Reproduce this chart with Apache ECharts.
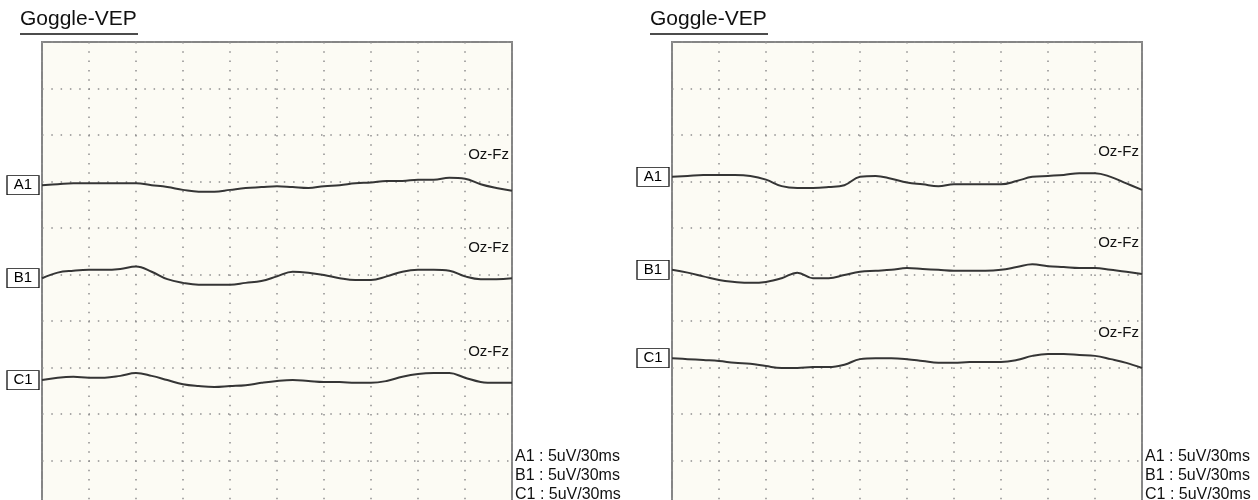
<!DOCTYPE html>
<html>
<head>
<meta charset="utf-8">
<script src="https://cdn.jsdelivr.net/npm/echarts@6/dist/echarts.min.js"></script>
<style>
  html, body { margin: 0; padding: 0; background: #fff; overflow: hidden; }
  /* the recording frames run a few pixels past the bottom of the picture */
  #chart { width: 1258px; height: 507px; }
</style>
</head>
<body>
<div id="chart"></div>
<script>
// time axis in ms (30 ms per division), amplitude in uV (5 uV per division)
var times = [0, 10, 20, 30, 40, 50, 60, 70, 80, 90, 100, 110, 120, 130, 140, 150,
  160, 170, 180, 190, 200, 210, 220, 230, 240, 250, 260, 270, 280, 290, 300]
var channels = ['A1', 'B1', 'C1']
var scaleText = ['A1 : 5uV/30ms', 'B1 : 5uV/30ms', 'C1 : 5uV/30ms']

// left recording
var leftA1 = [34.6, 34.7, 34.8, 34.8, 34.8, 34.8, 34.8, 34.6, 34.4, 34.1, 33.9, 33.9, 34.1, 34.3, 34.4, 34.5,
  34.4, 34.3, 34.5, 34.6, 34.8, 34.9, 35.05, 35.05, 35.2, 35.2, 35.4, 35.3, 34.7, 34.3, 34.0]
var leftB1 = [24.6, 25.2, 25.4, 25.5, 25.5, 25.6, 25.85, 25.3, 24.5, 24.1, 23.9, 23.9, 23.9, 24.1, 24.3, 24.8,
  25.3, 25.2, 24.95, 24.6, 24.4, 24.4, 24.8, 25.3, 25.5, 25.5, 25.4, 24.8, 24.5, 24.5, 24.6]
var leftC1 = [13.65, 13.9, 14.0, 13.9, 13.9, 14.1, 14.4, 14.1, 13.65, 13.2, 13.0, 12.9, 13.0, 13.1, 13.35, 13.55,
  13.65, 13.55, 13.45, 13.45, 13.35, 13.35, 13.55, 14.0, 14.3, 14.4, 14.4, 13.9, 13.45, 13.35, 13.35]

// right recording
var rightA1 = [35.5, 35.6, 35.7, 35.7, 35.7, 35.6, 35.2, 34.5, 34.3, 34.3, 34.4, 34.6, 35.5, 35.6, 35.3, 34.9,
  34.7, 34.5, 34.7, 34.7, 34.7, 34.7, 35.05, 35.5, 35.6, 35.7, 35.9, 35.9, 35.5, 34.8, 34.1]
var rightB1 = [25.5, 25.2, 24.8, 24.4, 24.2, 24.1, 24.2, 24.6, 25.2, 24.6, 24.6, 24.95, 25.3, 25.4, 25.5, 25.7,
  25.6, 25.5, 25.4, 25.4, 25.4, 25.5, 25.8, 26.1, 25.9, 25.8, 25.7, 25.7, 25.5, 25.3, 25.05]
var rightC1 = [16.0, 15.9, 15.8, 15.7, 15.5, 15.4, 15.15, 14.95, 14.95, 15.05, 15.05, 15.3, 15.9, 16.0, 16.0, 15.9,
  15.7, 15.5, 15.5, 15.6, 15.6, 15.6, 15.8, 16.25, 16.45, 16.45, 16.35, 16.25, 15.9, 15.5, 14.95]

var panels = [[leftA1, leftB1, leftC1], [rightA1, rightB1, rightC1]]

var myChart = echarts.init(document.getElementById('chart'))
var fontFamily = '"Liberation Sans", Arial, sans-serif'
var traceColor = '#353535'
var dotColor = '#8f8f8f'

function makeAxis(idx, max, interval) {
  return {
    type: 'value',
    gridIndex: idx,
    min: 0,
    max: max,
    interval: interval,
    axisLine: { show: false },
    axisTick: { show: false },
    axisLabel: { show: false },
    splitLine: {
      show: true,
      lineStyle: { color: dotColor, width: 1.5, type: [1.5, 7.8] }
    }
  }
}

var series = []
panels.forEach(function (traces, p) {
  traces.forEach(function (vals, c) {
    series.push({
      type: 'line',
      xAxisIndex: p,
      yAxisIndex: p,
      smooth: 0.4,
      symbol: 'none',
      clip: false,
      lineStyle: { color: traceColor, width: 2 },
      data: times.map(function (t, i) { return [t, vals[i]] }),
      markPoint: {
        symbol: 'rect',
        symbolSize: [32, 19],
        symbolOffset: [-19, 0],
        silent: true,
        itemStyle: { color: '#fff', borderColor: '#111', borderWidth: 1 },
        label: {
          show: true,
          position: 'inside',
          color: '#000',
          fontSize: 15,
          fontFamily: fontFamily,
          formatter: channels[c]
        },
        data: [{ coord: [times[0], vals[0]], name: channels[c] }]
      }
    })
  })
})

// text that sits round the two frames
var graphics = []
var panelLeft = [42, 672]
var panelRight = [512, 1142]
var ozY = [[155, 248, 352], [152, 243, 333]]
panelLeft.forEach(function (x0, p) {
  graphics.push({
    type: 'text', left: x0 - 22, top: 9,
    style: { text: 'Goggle-VEP', fontSize: 21, fontFamily: fontFamily, fill: '#111' }
  })
  graphics.push({
    type: 'line',
    shape: { x1: x0 - 22, y1: 34, x2: x0 + 96, y2: 34 },
    style: { stroke: '#111', lineWidth: 1.5 }
  })
  ozY[p].forEach(function (y) {
    graphics.push({
      type: 'text', x: panelRight[p] - 3, y: y,
      style: { text: 'Oz-Fz', fontSize: 15, fontFamily: fontFamily, fill: '#111', align: 'right', verticalAlign: 'middle' }
    })
  })
  scaleText.forEach(function (s, i) {
    graphics.push({
      type: 'text', x: panelRight[p] + 3, y: 457 + i * 19,
      style: { text: s, fontSize: 16, fontFamily: fontFamily, fill: '#111', verticalAlign: 'middle' }
    })
  })
})

var option = {
  animation: false,
  backgroundColor: '#fff',
  grid: [
    { left: 42, width: 470, top: 42, bottom: 0, show: true, backgroundColor: '#fcfbf4', borderColor: '#858585', borderWidth: 2 },
    { left: 672, width: 470, top: 42, bottom: 0, show: true, backgroundColor: '#fcfbf4', borderColor: '#858585', borderWidth: 2 }
  ],
  xAxis: [makeAxis(0, 300, 30), makeAxis(1, 300, 30)],
  yAxis: [makeAxis(0, 50, 5), makeAxis(1, 50, 5)],
  series: series,
  graphic: graphics
}

myChart.setOption(option)
</script>
</body>
</html>
